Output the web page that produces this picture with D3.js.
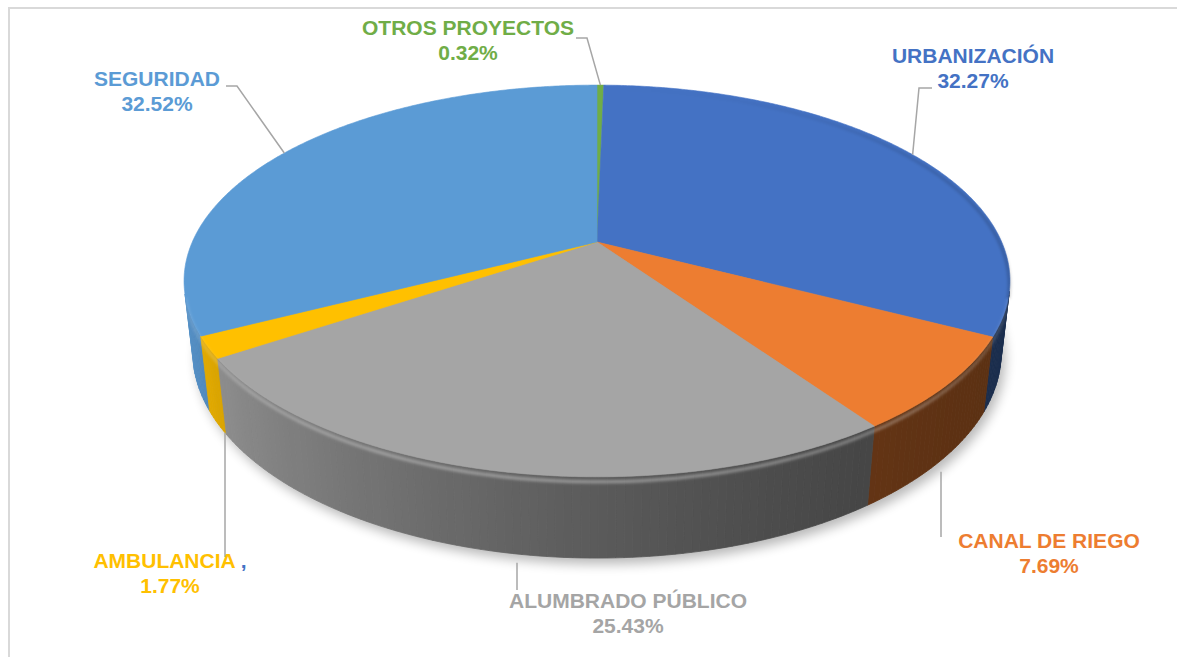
<!DOCTYPE html>
<html>
<head>
<meta charset="utf-8">
<script src="https://cdn.jsdelivr.net/npm/d3@7/dist/d3.min.js"></script>
<style>
  body { margin: 0; background: #fff; }
  svg { display: block; }
  text { font-family: "Liberation Sans", Arial, sans-serif; font-weight: bold; font-size: 21px; }
</style>
</head>
<body>
<svg id="chart" width="1177" height="657"></svg>
<script>
// data, clockwise from 12 o'clock
const categories = ["OTROS PROYECTOS", "URBANIZACIÓN", "CANAL DE RIEGO", "ALUMBRADO PÚBLICO", "AMBULANCIA", "SEGURIDAD"];
const shares = [0.32, 32.27, 7.69, 25.43, 1.77, 32.52];
const colors = ["#70AD47", "#4472C4", "#ED7D31", "#A5A5A5", "#FFC000", "#5B9BD5"];

// label layout: centre x, first baseline, leader bend points (the rim end is computed)
const labelLayout = [
  { x: 468, y: 35, bend: [[576, 38], [587, 38]], front: false },
  { x: 973, y: 63, bend: [[932, 88], [919, 88]], front: false },
  { x: 1049, y: 548, bend: [[941, 537]], front: true },
  { x: 628, y: 608, bend: [[517, 590]], front: true },
  { x: 170, y: 568, bend: [[225, 557]], front: true, comma: true },
  { x: 157, y: 86, bend: [[226, 86], [237, 86]], front: false }
];

const svg = d3.select("#chart");

// 3d pie geometry (perspective view of a short cylinder)
const cx = 597, cy = 242, S = 404.7, D = 4.45, thick = 0.2;
const alpha = 27.7 * Math.PI / 180;

function project(phi, h) {
  const x = Math.sin(phi), z = -Math.cos(phi);
  const yp = h * Math.cos(alpha) - z * Math.sin(alpha);
  const zp = h * Math.sin(alpha) + z * Math.cos(alpha);
  const k = D / (D - zp);
  return [cx + S * x * k, cy - S * yp * k];
}
function visible(phi) {
  return -1 - D * Math.cos(alpha) * Math.cos(phi) > 0;
}
// side lighting: lighter on the left, dark on the right
const shade = phi => Math.min(1, 0.71 - 0.277 * Math.sin(phi) + 0.16 * Math.cos(phi));

const data = categories.map((c, i) => ({ name: c, value: shares[i], color: colors[i], layout: labelLayout[i] }));
const arcs = d3.pie().sort(null).value(d => d.value)(data);

const defs = svg.append("defs");
defs.append("filter").attr("id", "shadowBlur").attr("x", "-20%").attr("y", "-20%").attr("width", "140%").attr("height", "140%")
  .append("feGaussianBlur").attr("stdDeviation", 6);
defs.append("filter").attr("id", "rimBlur").attr("x", "-10%").attr("y", "-10%").attr("width", "120%").attr("height", "120%")
  .append("feGaussianBlur").attr("stdDeviation", 1.4);

// chart border (only top and left edges fall inside the picture)
svg.append("path").attr("d", "M9,657V8H1177").attr("fill", "none").attr("stroke", "#D9D9D9").attr("stroke-width", 2);

const line = d3.line();
const step = Math.PI / 360;
const ring = (a0, a1, h) => d3.range(a0, a1, step).concat([a1]).map(p => project(p, h));

// soft shadow under the pie
svg.append("path")
  .attr("d", line(ring(0, 2 * Math.PI, -thick).map(p => [p[0] + 4, p[1] + 6])) + "Z")
  .attr("fill", "#000").attr("opacity", 0.28).attr("filter", "url(#shadowBlur)");

// side wall strips, back to front
const strips = [];
arcs.forEach(a => {
  const n = Math.max(1, Math.ceil((a.endAngle - a.startAngle) / (Math.PI / 180)));
  const dA = (a.endAngle - a.startAngle) / n;
  for (let i = 0; i < n; i++) {
    const p0 = a.startAngle + i * dA, p1 = p0 + dA, pm = (p0 + p1) / 2;
    if (!visible(pm)) continue;
    strips.push({ p0, p1, pm, color: d3.interpolateRgb("#000", a.data.color)(shade(pm)) });
  }
});
strips.sort((a, b) => -Math.cos(a.pm) - -Math.cos(b.pm));
svg.append("g").selectAll("path").data(strips).join("path")
  .attr("d", d => line([project(d.p0, 0), project(d.p1, 0), project(d.p1, -thick), project(d.p0, -thick)]) + "Z")
  .attr("fill", d => d.color).attr("stroke", d => d.color).attr("stroke-width", 0.8);

// top faces
svg.append("g").selectAll("path").data(arcs).join("path")
  .attr("d", a => line([[cx, cy]].concat(ring(a.startAngle, a.endAngle, 0))) + "Z")
  .attr("fill", a => a.data.color).attr("stroke", a => a.data.color).attr("stroke-width", 0.6);

// bevel highlight along the front rim
const rimG = svg.append("g").attr("filter", "url(#rimBlur)");
arcs.forEach(a => {
  const n = Math.max(1, Math.ceil((a.endAngle - a.startAngle) / (Math.PI / 90)));
  const dA = (a.endAngle - a.startAngle) / n;
  for (let i = 0; i < n; i++) {
    const p0 = a.startAngle + i * dA, p1 = p0 + dA, pm = (p0 + p1) / 2;
    const f = shade(pm);
    rimG.append("path").attr("d", line([project(p0, -0.012), project(p1, -0.012)]))
      .attr("fill", "none")
      .attr("stroke", visible(pm) ? "#fff" : "#000")
      .attr("stroke-opacity", visible(pm) ? 0.4 * Math.max(0, -Math.cos(pm)) : 0.35 * Math.max(0, Math.sin(pm)) * (1 - f))
      .attr("stroke-width", 3);
  }
});

// leader lines
const fmt = v => v.toFixed(2) + "%";
svg.append("g").selectAll("path").data(arcs).join("path")
  .attr("d", a => {
    const L = a.data.layout, mid = (a.startAngle + a.endAngle) / 2;
    if (L.front) {
      const rim = project(mid, -thick);
      return line([L.bend[0], [L.bend[0][0], rim[1] + 10]]);
    }
    return line(L.bend.concat([project(mid, 0)]));
  })
  .attr("fill", "none").attr("stroke", "#A6A6A6").attr("stroke-width", 1.5);

// labels
const labels = svg.append("g").selectAll("text").data(arcs).join("text")
  .attr("text-anchor", "middle")
  .attr("fill", a => a.data.color);
labels.append("tspan").attr("x", a => a.data.layout.x).attr("y", a => a.data.layout.y).text(a => a.data.name);
labels.filter(a => a.data.layout.comma).append("tspan").attr("fill", "#4472C4").text(" ,");
labels.append("tspan").attr("x", a => a.data.layout.x).attr("y", a => a.data.layout.y + 25).text(a => fmt(a.data.value));
</script>
</body>
</html>
